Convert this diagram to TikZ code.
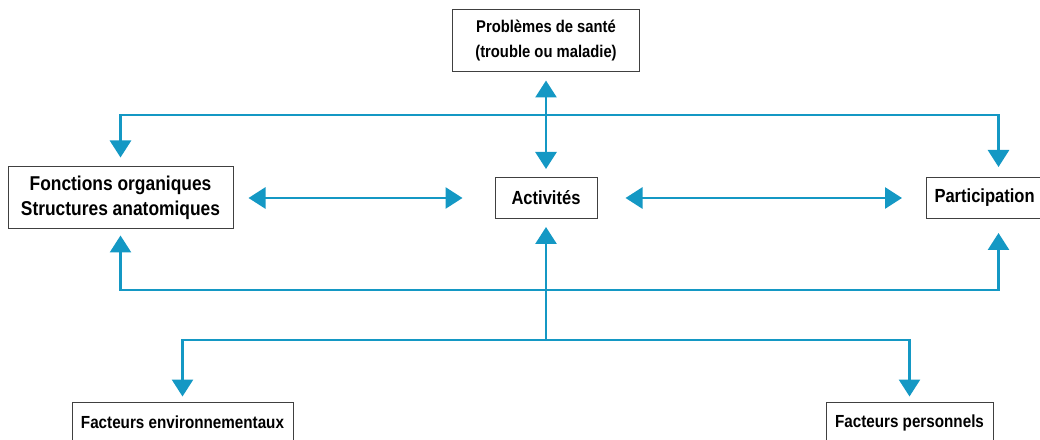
\documentclass[tikz,border=0pt]{standalone}
\usepackage{fontspec}
\setmainfont{Liberation Sans}[FakeStretch=0.87]
\usetikzlibrary{arrows.meta}
\definecolor{cifblue}{RGB}{20,152,196}

\begin{document}
\begin{tikzpicture}[x=1pt,y=1pt,
        box/.style={draw=black!75,line width=1pt,fill=white,align=center,inner sep=0pt},
        link/.style={cifblue,line width=2.8pt},
        tip/.style={-{Triangle[width=21pt,length=17pt]}},
        both/.style={{Triangle[width=21pt,length=17pt]}-{Triangle[width=21pt,length=17pt]}}]
        \clip (0,0) rectangle (1040,439);

        \node[box,minimum width=187,minimum height=62,font=\bfseries\fontsize{17}{25}\selectfont](sante) at (546,398){Problèmes de santé\\(trouble ou maladie)};
        \node[box,minimum width=225,minimum height=62,font=\bfseries\fontsize{20}{25}\selectfont](fonctions) at (120.5,241){Fonctions organiques\\Structures anatomiques};
        \node[box,minimum width=102,minimum height=41,font=\bfseries\fontsize{19}{24}\selectfont](activites) at (546,241){Activités};
        \node[box,anchor=west,text width=128,align=left,inner xsep=8,minimum height=41,font=\bfseries\fontsize{19}{24}\selectfont](participation) at (926,241){Participation};
        \node[box,minimum width=221,minimum height=41,font=\bfseries\fontsize{17.5}{24}\selectfont](envir) at (182.5,16.5){Facteurs environnementaux};
        \node[box,minimum width=167,minimum height=41,font=\bfseries\fontsize{17.5}{24}\selectfont](perso) at (909.5,16.5){Facteurs personnels};

        \coordinate (top) at (546,324);
        \coordinate (low) at (546,149);
        \coordinate (fork) at (546,99);

        \draw[link,both,shorten <=8,shorten >=8](sante.south)--(activites.north);
        \draw[link,tip,shorten >=9](top)-|(fonctions.north);
        \draw[link,tip,shorten >=10](top)-|(participation.north);

        \draw[link,both,shorten <=15,shorten >=32](fonctions.east)--(activites.west);
        \draw[link,both,shorten <=28,shorten >=24](activites.east)--(participation.west);

        \draw[link,tip,shorten >=6](low)-|(fonctions.south);
        \draw[link,tip,shorten >=14](low)-|(participation.south);

        \draw[link,tip,shorten >=8](fork)--(activites.south);
        \draw[link,tip,shorten >=5](fork)-|(envir.north);
        \draw[link,tip,shorten >=5](fork)-|(perso.north);
    \end{tikzpicture}
\end{document}
